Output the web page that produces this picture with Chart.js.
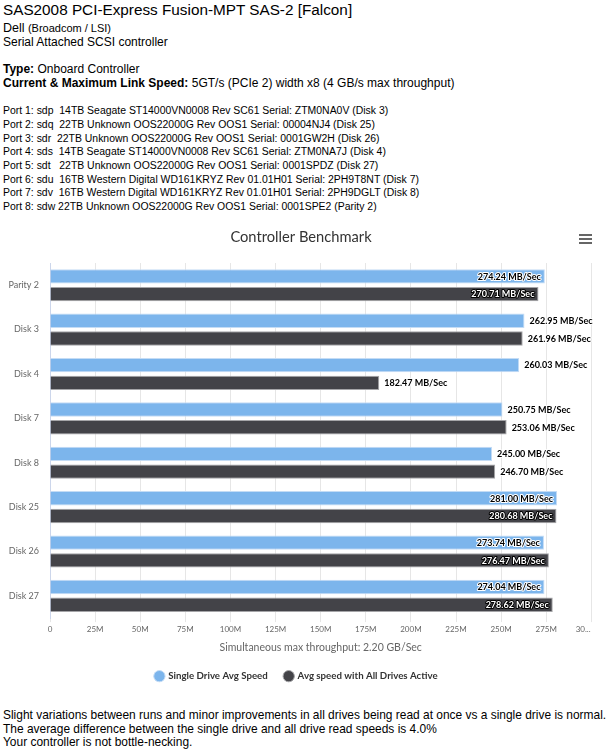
<!DOCTYPE html>
<html>
<head>
<meta charset="utf-8">
<script src="https://cdn.jsdelivr.net/npm/chart.js@4/dist/chart.umd.min.js"></script>
<style>
  html, body { margin: 0; padding: 0; background: #fff; }
  body { width: 610px; height: 750px; position: relative; overflow: hidden;
         font-family: "Liberation Sans", Arial, sans-serif; color: #000; }
  #title { position: absolute; left: 3px; top: 0; margin: 0; font-size: 15.3px; line-height: 20px; font-weight: normal; white-space: nowrap; }
  #info { position: absolute; left: 3px; top: 22px; font-size: 12px; line-height: 13.7px; white-space: nowrap; }
  #info .dell { font-size: 12.5px; }
  #info .small { font-size: 11px; }
  #info .ports { font-size: 10.45px; }
  #info b { font-weight: bold; }
  #chartBox { position: absolute; left: 0; top: 222px; width: 610px; height: 478px; }
  #footer { position: absolute; left: 3px; top: 709px; font-size: 11.95px; line-height: 13.7px; white-space: nowrap; }
</style>
</head>
<body>
<h1 id="title">SAS2008 PCI-Express Fusion-MPT SAS-2 [Falcon]</h1>
<div id="info">
  <span class="dell">Dell</span> <span class="small">(Broadcom / LSI)</span><br>
  Serial Attached SCSI controller<br>
  <br>
  <b>Type:</b> Onboard Controller<br>
  <b>Current &amp; Maximum Link Speed:</b> 5GT/s (PCIe 2) width x8 (4 GB/s max throughput)<br>
  <br>
  <span class="ports">
  Port 1: sdp&nbsp; 14TB Seagate ST14000VN0008 Rev SC61 Serial: ZTM0NA0V (Disk 3)<br>
  Port 2: sdq&nbsp; 22TB Unknown OOS22000G Rev OOS1 Serial: 00004NJ4 (Disk 25)<br>
  Port 3: sdr&nbsp; 22TB Unknown OOS22000G Rev OOS1 Serial: 0001GW2H (Disk 26)<br>
  Port 4: sds&nbsp; 14TB Seagate ST14000VN0008 Rev SC61 Serial: ZTM0NA7J (Disk 4)<br>
  Port 5: sdt&nbsp;&nbsp; 22TB Unknown OOS22000G Rev OOS1 Serial: 0001SPDZ (Disk 27)<br>
  Port 6: sdu&nbsp; 16TB Western Digital WD161KRYZ Rev 01.01H01 Serial: 2PH9T8NT (Disk 7)<br>
  Port 7: sdv&nbsp; 16TB Western Digital WD161KRYZ Rev 01.01H01 Serial: 2PH9DGLT (Disk 8)<br>
  Port 8: sdw 22TB Unknown OOS22000G Rev OOS1 Serial: 0001SPE2 (Parity 2)
  </span>
</div>
<div id="chartBox"><canvas id="c" width="610" height="478"></canvas></div>
<div id="footer">
  Slight variations between runs and minor improvements in all drives being read at once vs a single drive is normal.<br>
  The average difference between the single drive and all drive read speeds is 4.0%<br>
  Your controller is not bottle-necking.
</div>
<script>
const categories = ['Parity 2', 'Disk 3', 'Disk 4', 'Disk 7', 'Disk 8', 'Disk 25', 'Disk 26', 'Disk 27'];
const singleDriveSpeed = [274.24, 262.95, 260.03, 250.75, 245.00, 281.00, 273.74, 274.04];
const allDrivesSpeed = [270.71, 261.96, 182.47, 253.06, 246.70, 280.68, 276.47, 278.62];
const xTickLabels = ['0', '25M', '50M', '75M', '100M', '125M', '150M', '175M', '200M', '225M', '250M', '275M', '30...'];
const seriesNames = ['Single Drive Avg Speed', 'Avg speed with All Drives Active'];
const chartTitle = 'Controller Benchmark';
const xAxisTitle = 'Simultaneous max throughput: 2.20 GB/Sec';

Chart.defaults.font.family = 'Lato, "Open Sans", sans-serif';

const headerPlugin = {
  id: 'header',
  afterDraw(chart) {
    const ctx = chart.ctx;
    ctx.save();
    ctx.fillStyle = '#333333';
    ctx.font = '14.7px Lato';
    ctx.textAlign = 'center';
    ctx.textBaseline = 'middle';
    ctx.fillText(chartTitle, 301, 15);
    // context menu icon
    ctx.strokeStyle = '#666666';
    ctx.lineWidth = 2;
    [13, 17, 21].forEach(y => {
      ctx.beginPath();
      ctx.moveTo(579, y);
      ctx.lineTo(592, y);
      ctx.stroke();
    });
    ctx.restore();
  }
};

const valueLabelPlugin = {
  id: 'valueLabels',
  afterDatasetsDraw(chart) {
    const ctx = chart.ctx;
    const area = chart.chartArea;
    ctx.save();
    ctx.font = 'bold 9px Lato';
    ctx.textBaseline = 'middle';
    ctx.lineJoin = 'round';
    chart.data.datasets.forEach((ds, di) => {
      const meta = chart.getDatasetMeta(di);
      meta.data.forEach((bar, i) => {
        const txt = ds.data[i].toFixed(2) + ' MB/Sec';
        const w = ctx.measureText(txt).width;
        let x, fill, stroke;
        if (bar.x + 5 + w > area.right + 7) {
          x = bar.x - 4 - w;
          if (di === 1) { fill = '#ffffff'; stroke = '#000000'; }
          else { fill = '#000000'; stroke = '#ffffff'; }
        } else {
          x = bar.x + 5;
          fill = '#000000'; stroke = '#ffffff';
        }
        ctx.textAlign = 'left';
        ctx.lineWidth = 2;
        ctx.strokeStyle = stroke;
        ctx.strokeText(txt, x, bar.y + 0.5);
        ctx.fillStyle = fill;
        ctx.fillText(txt, x, bar.y + 0.5);
      });
    });
    ctx.restore();
  }
};

new Chart(document.getElementById('c'), {
  type: 'bar',
  data: {
    labels: categories,
    datasets: [
      { label: seriesNames[0], data: singleDriveSpeed, backgroundColor: '#7cb5ec', borderColor: '#c4dcf5', borderWidth: 1, categoryPercentage: 0.8, barPercentage: 0.81 },
      { label: seriesNames[1], data: allDrivesSpeed, backgroundColor: '#434348', borderColor: '#a5a5a8', borderWidth: 1, categoryPercentage: 0.8, barPercentage: 0.81 }
    ]
  },
  options: {
    responsive: false,
    animation: false,
    indexAxis: 'y',
    layout: { padding: { top: 41, right: 17, bottom: 9, left: 0 } },
    scales: {
      x: {
        min: 0, max: 300,
        ticks: { stepSize: 25, color: '#666666', font: { size: 8 }, padding: 3, maxRotation: 0, autoSkip: false,
                 callback: (v, i) => (i === xTickLabels.length - 1 ? xTickLabels[i] + '\u00a0\u00a0\u00a0\u00a0\u00a0\u00a0\u00a0\u00a0' : xTickLabels[i]) },
        grid: { color: '#e6e6e6', lineWidth: 1, drawTicks: true, tickLength: 4 },
        border: { display: false },
        title: { display: true, text: xAxisTitle, color: '#666666', font: { size: 10.5 }, padding: { top: 4, bottom: 0 } }
      },
      y: {
        ticks: { color: '#666666', font: { size: 9 }, padding: 11 },
        grid: { display: false, drawTicks: false },
        border: { display: true, color: '#ccd6eb', width: 1 },
        afterFit(scale) { scale.width = 50; }
      }
    },
    plugins: {
      legend: {
        position: 'bottom',
        labels: { usePointStyle: true, pointStyle: 'circle', boxWidth: 8, boxHeight: 8, padding: 17,
                  color: '#333333', font: { size: 9.7, weight: 'bold' } }
      },
      title: { display: false },
      tooltip: { enabled: false }
    }
  },
  plugins: [headerPlugin, valueLabelPlugin]
});
</script>
</body>
</html>
